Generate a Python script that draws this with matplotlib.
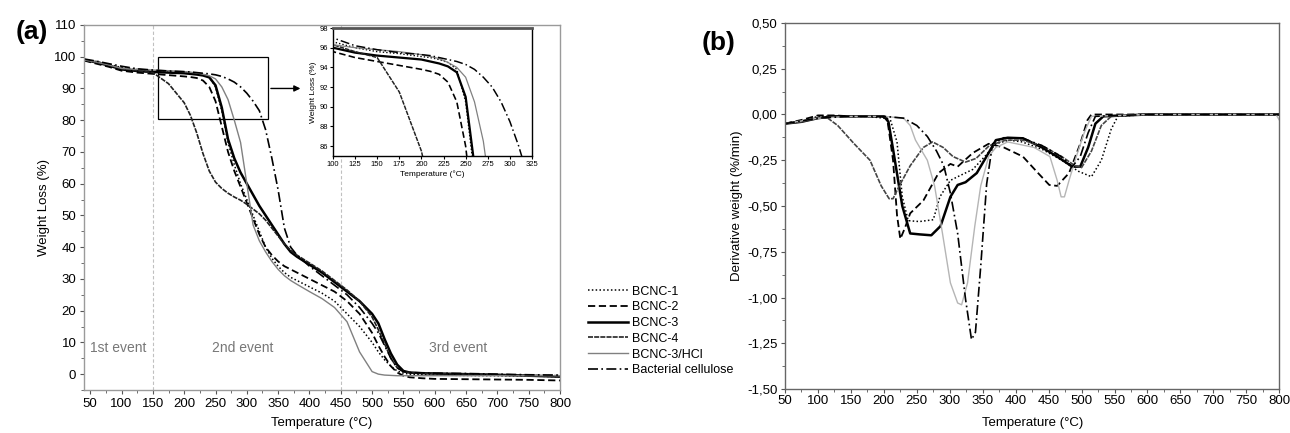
import numpy as np
import matplotlib
matplotlib.use("Agg")
import matplotlib.pyplot as plt
from matplotlib.ticker import MultipleLocator, FuncFormatter
from matplotlib.patches import Rectangle

plt.rcParams['font.family'] = ['Liberation Sans', 'DejaVu Sans']

# ---- panel (a): TGA, weight loss (%) on a shared temperature grid ----
temp_a = [40, 60, 80, 100, 125, 150, 175, 200, 210, 220, 230, 240, 250, 260, 270, 280,
          290, 300, 310, 320, 330, 340, 350, 360, 370, 380, 400, 420, 440, 460, 480, 500,
          510, 520, 530, 540, 550, 560, 580, 600, 650, 700, 750, 800]

bcnc1_a = [99.2, 98.5, 97.6, 96.6, 96.0, 95.6, 95.4, 95.1, 95.0, 94.8, 94.5, 93.8, 90.5, 83, 73, 66,
           60, 55, 50, 45, 40, 36.5, 34, 32, 30.5, 29.5, 27.5, 25.5, 23, 19, 15, 10,
           7, 4.5, 2.5, 1, 0.3, 0, -0.2, -0.3, -0.4, -0.5, -0.6, -0.8]
bcnc2_a = [98.8, 97.8, 96.8, 95.6, 95.0, 94.6, 94.2, 93.8, 93.6, 93.3, 92.5, 90.5, 86, 78, 70, 64,
           59, 54, 49, 44, 40, 37.5, 35.5, 34, 33, 32, 30, 28, 26, 23, 19, 13,
           9, 5.5, 2.5, 0.5, -0.5, -1, -1.3, -1.5, -1.6, -1.7, -1.8, -2]
bcnc3_a = [99, 98.2, 97.2, 96.0, 95.5, 95.2, 95.0, 94.8, 94.6, 94.4, 94.1, 93.5, 91, 84, 74, 68,
           63.5, 60, 56.5, 53, 50, 47, 44, 41, 38.5, 37, 34.5, 32, 29, 26, 23, 19,
           16, 11, 6.5, 3, 1, 0.5, 0.3, 0.2, 0, -0.2, -0.5, -0.8]
bcnc4_a = [99, 98.3, 97.3, 96.3, 95.6, 95.0, 91.5, 85.5, 81.5, 76, 69.5, 64, 60.5, 58.5, 57, 55.8,
           54.8, 53.5, 52, 50.5, 48.5, 46, 43.5, 41, 39, 37.5, 35, 32.5, 29.5, 26.5, 23, 18,
           14, 9.5, 5, 2, 0.8, 0.5, 0.3, 0.2, 0, -0.2, -0.4, -0.5]
hcl_a = [99, 98.3, 97.4, 96.3, 96.0, 95.8, 95.6, 95.3, 95.1, 94.9, 94.5, 94.0, 93.0, 90.5, 86.5, 80,
         73, 60, 47, 42, 38.5, 35.5, 33, 31, 29.5, 28.3, 26, 23.8, 21, 16.5, 7, 0.8,
         0, -0.3, -0.4, -0.5, -0.5, -0.5, -0.5, -0.5, -0.5, -0.5, -0.5, -0.5]
bc_a = [99.3, 98.6, 97.8, 97.0, 96.2, 95.8, 95.5, 95.3, 95.2, 95.0, 94.8, 94.6, 94.3, 93.8, 93.0, 92.0,
        90.5, 88.5, 86, 83, 77, 68, 58, 46, 40, 37.5, 34, 31, 28, 25, 21, 16,
        13, 9, 5, 2, 0.8, 0.5, 0.4, 0.3, 0.2, 0, -0.2, -0.3]

# ---- panel (b): DTG, derivative weight (%/min) ----
bcnc1_t = [50, 75, 100, 125, 150, 175, 200, 210, 220, 228, 237, 254, 275, 285, 301, 312,
           335, 353, 370, 390, 410, 440, 470, 495, 515, 530, 545, 555, 600, 700, 800]
bcnc1_d = [-0.05, -0.04, -0.01, -0.01, -0.01, -0.01, -0.02, -0.03, -0.15, -0.45, -0.58, -0.585,
           -0.575, -0.45, -0.36, -0.34, -0.30, -0.23, -0.16, -0.14, -0.15, -0.19, -0.25, -0.31,
           -0.34, -0.25, -0.08, -0.01, 0, 0, 0]
bcnc2_t = [50, 75, 100, 125, 150, 175, 195, 205, 214, 220, 225, 232, 240, 260, 283, 301, 312,
           335, 359, 382, 411, 434, 451, 463, 481, 498, 509, 515, 600, 700, 800]
bcnc2_d = [-0.05, -0.03, -0.005, -0.005, -0.01, -0.01, -0.01, -0.02, -0.25, -0.55, -0.68, -0.62,
           -0.54, -0.47, -0.32, -0.27, -0.285, -0.21, -0.16, -0.18, -0.23, -0.32, -0.385, -0.39,
           -0.32, -0.16, -0.03, 0, 0, 0, 0]
bcnc3_t = [50, 75, 100, 125, 150, 175, 200, 207, 214, 228, 240, 254, 272, 286, 301, 312, 324,
           341, 359, 370, 388, 411, 440, 463, 486, 498, 510, 521, 533, 600, 700, 800]
bcnc3_d = [-0.05, -0.04, -0.02, -0.01, -0.01, -0.01, -0.01, -0.04, -0.19, -0.5, -0.65, -0.655,
           -0.66, -0.61, -0.45, -0.385, -0.37, -0.32, -0.21, -0.14, -0.127, -0.13, -0.18, -0.23,
           -0.285, -0.285, -0.18, -0.05, -0.01, 0, 0, 0]
bcnc4_t = [50, 75, 100, 115, 130, 155, 179, 196, 208, 214, 222, 240, 260, 274, 290, 305, 324,
           340, 360, 385, 410, 440, 470, 490, 500, 515, 530, 545, 600, 700, 800]
bcnc4_d = [-0.05, -0.04, -0.02, -0.02, -0.06, -0.16, -0.25, -0.39, -0.46, -0.46, -0.40, -0.28,
           -0.18, -0.15, -0.18, -0.23, -0.26, -0.24, -0.17, -0.14, -0.14, -0.17, -0.23, -0.28,
           -0.29, -0.2, -0.06, -0.01, 0, 0, 0]
hcl_t = [50, 100, 150, 200, 230, 240, 248, 266, 277, 289, 301, 312, 318, 327, 338, 347, 359,
         370, 388, 428, 452, 463, 469, 474, 481, 492, 504, 515, 600, 700, 795, 800]
hcl_d = [-0.05, -0.02, -0.01, -0.01, -0.02, -0.06, -0.14, -0.25, -0.39, -0.65, -0.92, -1.03,
         -1.04, -0.92, -0.61, -0.39, -0.23, -0.18, -0.15, -0.18, -0.23, -0.36, -0.45, -0.45,
         -0.36, -0.23, -0.10, -0.01, 0, 0, 0, -0.03]
bc_t = [50, 100, 150, 200, 230, 250, 266, 280, 291, 301, 312, 324, 333, 339, 347, 356, 365,
        382, 411, 440, 469, 486, 498, 510, 521, 600, 700, 800]
bc_d = [-0.05, -0.02, -0.01, -0.01, -0.02, -0.06, -0.12, -0.2, -0.28, -0.43, -0.65, -1.01,
        -1.23, -1.19, -0.83, -0.38, -0.16, -0.127, -0.13, -0.17, -0.23, -0.285, -0.23, -0.10,
        -0.01, 0, 0, 0]

labels = ['BCNC-1', 'BCNC-2', 'BCNC-3', 'BCNC-4', 'BCNC-3/HCl', 'Bacterial cellulose']

# line styles per series
styles = [
    dict(color='black', lw=1.1, ls=(0, (1, 1.5))),
    dict(color='black', lw=1.3, ls=(0, (4, 2))),
    dict(color='black', lw=1.8, ls='-'),
    dict(color='#222222', lw=1.2, ls=(0, (3, 0.7))),
    dict(color='#808080', lw=1.0, ls='-'),
    dict(color='black', lw=1.2, ls=(0, (6, 2, 1, 2))),
]
colors_b = ['black', 'black', 'black', '#444444', '#b5b5b5', 'black']

series_a = [bcnc1_a, bcnc2_a, bcnc3_a, bcnc4_a, hcl_a, bc_a]
series_b = [(bcnc1_t, bcnc1_d), (bcnc2_t, bcnc2_d), (bcnc3_t, bcnc3_d),
            (bcnc4_t, bcnc4_d), (hcl_t, hcl_d), (bc_t, bc_d)]

fig = plt.figure(figsize=(12.9, 4.33), dpi=100)
ax_a = fig.add_axes([0.0651, 0.0993, 0.3690, 0.8430])
ax_b = fig.add_axes([0.6085, 0.1016, 0.3832, 0.8453])

frame_col = '#9a9a9a'


def style_axes(ax, size):
    for sp in ax.spines.values():
        sp.set_color(frame_col)
        sp.set_linewidth(1.0)
    ax.tick_params(which='both', direction='out', top=False, right=False,
                   labelsize=size, color='#555555', pad=2.5)
    ax.tick_params(which='major', length=3)
    ax.tick_params(which='minor', length=2)


# ---------- (a) ----------
handles = []
for y, st, lab in zip(series_a, styles, labels):
    h, = ax_a.plot(temp_a, y, color=st['color'], lw=st['lw'], ls=st['ls'], label=lab)
    handles.append(h)

for xv in (150, 450):
    ax_a.axvline(xv, color='#c0c0c0', lw=0.8, ls=(0, (3, 2)), zorder=0)

ax_a.set_xlim(40, 800)
ax_a.set_ylim(-5, 110)
ax_a.xaxis.set_minor_locator(MultipleLocator(25))
ax_a.yaxis.set_major_locator(MultipleLocator(10))
ax_a.yaxis.set_minor_locator(MultipleLocator(5))
ax_a.set_xticks(np.arange(50, 801, 50))
style_axes(ax_a, 9.5)
ax_a.set_xlabel('Temperature (°C)', fontsize=9.5, labelpad=5)
ax_a.set_ylabel('Weight Loss (%)', fontsize=9.5, labelpad=3)

for xt, txt in [(95, '1st event'), (293, '2nd event'), (637, '3rd event')]:
    ax_a.text(xt, 8.3, txt, ha='center', va='center', fontsize=10, color='#777777')

# zoom box and arrow
ax_a.add_patch(Rectangle((158, 80.5), 176, 19.3, fill=False, ec='black', lw=0.9))
ax_a.annotate('', xy=(390, 90), xytext=(334, 90),
              arrowprops=dict(arrowstyle='-|>', color='black', lw=1.0, mutation_scale=9))

# inset
ax_in = fig.add_axes([0.2581, 0.6397, 0.1543, 0.2956])
for y, st in zip(series_a, styles):
    ax_in.plot(temp_a, y, color=st['color'], lw=st['lw'] * 0.9, ls=st['ls'])
ax_in.set_xlim(100, 325)
ax_in.set_ylim(85, 98)
ax_in.set_xticks(np.arange(100, 326, 25))
ax_in.set_yticks(np.arange(86, 99, 2))
ax_in.tick_params(labelsize=5.5, length=2, pad=1.5)
ax_in.set_xlabel('Temperature (°C)', fontsize=6, labelpad=2)
ax_in.set_ylabel('Weight Loss (%)', fontsize=6, labelpad=2)
for sp in ax_in.spines.values():
    sp.set_color('black')
    sp.set_linewidth(1.0)
ax_in.spines['top'].set_color('#555555')
ax_in.spines['top'].set_linewidth(2.0)

# ---------- (b) ----------
for (t, d), st, col in zip(series_b, styles, colors_b):
    ax_b.plot(t, d, color=col, lw=st['lw'], ls=st['ls'])

ax_b.set_xlim(50, 800)
ax_b.set_ylim(-1.5, 0.5)
ax_b.xaxis.set_major_locator(MultipleLocator(50))
ax_b.xaxis.set_minor_locator(MultipleLocator(25))
ax_b.yaxis.set_major_locator(MultipleLocator(0.25))
ax_b.yaxis.set_minor_locator(MultipleLocator(0.125))
ax_b.yaxis.set_major_formatter(FuncFormatter(lambda v, p: f'{v:.2f}'.replace('.', ',')))
style_axes(ax_b, 9.5)
for sp in ax_b.spines.values():
    sp.set_color('#666666')
ax_b.tick_params(axis='x', pad=1.5)
ax_b.set_xlabel('Temperature (°C)', fontsize=9.5, labelpad=7)
ax_b.set_ylabel('Derivative weight (%/min)', fontsize=9.5, labelpad=3)

# panel letters
fig.text(0.025, 0.925, '(a)', fontsize=19, fontweight='bold', ha='center', va='center')
fig.text(0.557, 0.900, '(b)', fontsize=19, fontweight='bold', ha='center', va='center')

fig.legend(handles, labels, loc='upper left', bbox_to_anchor=(0.452, 0.352),
           frameon=False, fontsize=9, handlelength=3.2, labelspacing=0.3,
           handletextpad=0.3, borderaxespad=0)

fig.savefig('out.png', dpi=100)
